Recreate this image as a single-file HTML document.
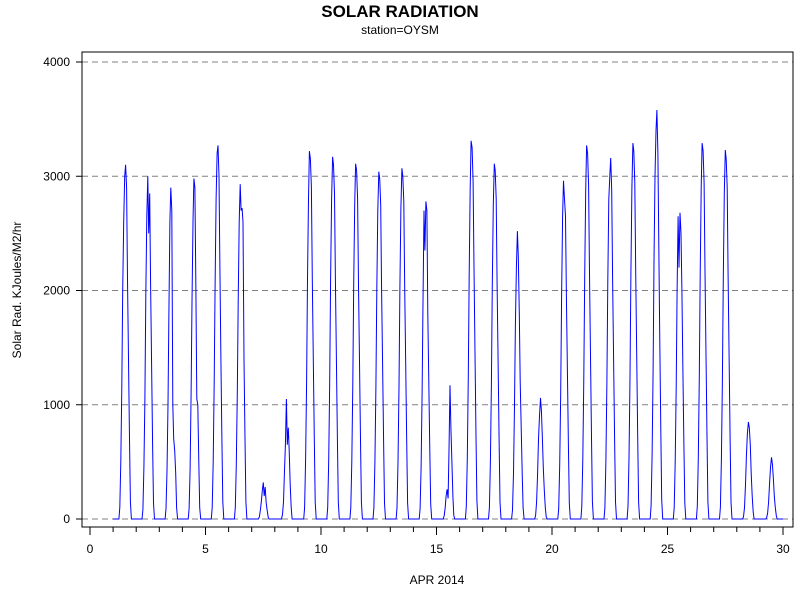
<!DOCTYPE html>
<html><head><meta charset="utf-8"><style>
body{margin:0;background:#fff;}
svg{display:block;font-family:"Liberation Sans",Arial,sans-serif;}
</style></head><body>
<svg id="chart" width="800" height="600">
<text x="400" y="17" text-anchor="middle" font-size="17" font-weight="bold">SOLAR RADIATION</text>
<text x="400" y="34" text-anchor="middle" font-size="12">station=OYSM</text>
<g id="grid"></g>
<g id="yaxis"></g>
<g id="xaxis"></g>
<path id="series" fill="none" stroke="#0000ff" stroke-width="1"></path>
<rect x="82" y="52" width="711" height="475" fill="none" stroke="#000"></rect>
<text transform="translate(21,290) rotate(-90)" text-anchor="middle" font-size="12">Solar Rad.  KJoules/M2/hr</text>
<text x="437" y="584" text-anchor="middle" font-size="12">APR 2014</text>
</svg>
<script>
const yTicks = [0, 1000, 2000, 3000, 4000];
const xTicks = [0, 5, 10, 15, 20, 25, 30];
const firstDay = 1;
const firstHour = 6;
// hourly values for hours 6..19 of each day, days 1..29
const dailyProfiles = [
[0,100,500,1150,2000,2600,3000,3100,2900,2100,1400,700,150,0],
[0,80,450,1050,1950,2650,3000,2500,2850,2050,1350,650,140,0],
[0,90,420,1000,1800,2600,2900,2700,1000,700,600,400,100,0],
[0,90,430,1100,1900,2600,2980,2900,2000,1050,1000,500,100,0],
[0,100,500,1200,2050,2800,3200,3270,3000,2200,1400,700,150,0],
[0,100,480,1100,1900,2600,2930,2700,2720,2600,1400,700,150,0],
[0,0,20,80,150,250,320,200,280,150,80,20,0,0],
[0,0,40,150,400,650,1050,650,800,600,300,100,0,0],
[0,100,520,1200,2100,2800,3220,3150,2900,2100,1400,700,150,0],
[0,100,510,1200,2100,2800,3170,3100,2850,2100,1400,700,150,0],
[0,100,500,1180,2050,2750,3110,3050,2800,2050,1380,690,150,0],
[0,100,490,1150,2000,2700,3040,2980,2750,2000,1350,680,140,0],
[0,100,495,1160,2020,2720,3070,3000,2780,2020,1360,680,140,0],
[0,90,450,1100,1900,2700,2350,2780,2700,1800,1200,600,130,0],
[0,0,30,100,200,260,180,600,1170,800,500,200,30,0],
[0,110,530,1250,2150,2900,3310,3250,2950,2200,1450,720,160,0],
[0,100,500,1180,2050,2750,3110,3050,2800,2050,1380,690,150,0],
[0,80,400,1000,1700,2200,2520,2300,1800,1200,800,400,100,0],
[0,30,150,400,700,900,1060,950,700,450,250,100,20,0],
[0,90,470,1100,1950,2650,2960,2800,2650,1950,1300,650,140,0],
[0,110,520,1230,2120,2870,3270,3200,2920,2150,1430,710,150,0],
[0,100,510,1200,2080,2800,3000,3160,2880,2100,1400,700,150,0],
[0,110,530,1240,2140,2900,3290,3220,2940,2170,1440,720,150,0],
[0,120,560,1300,2250,3000,3400,3580,3200,2400,1550,780,170,0],
[0,100,500,1150,2000,2650,2200,2680,2500,2000,1300,650,140,0],
[0,110,530,1240,2140,2900,3290,3220,2940,2170,1440,720,150,0],
[0,105,520,1220,2110,2850,3230,3150,2900,2130,1420,710,150,0],
[0,20,100,300,550,750,850,800,650,400,200,60,0,0],
[0,10,50,150,300,450,540,480,350,200,100,30,0,0]
];
const NS='http://www.w3.org/2000/svg';
const X0=82,X1=793,Y0=52,Y1=527;
function xs(d){return 90+(d-0)*(783-90)/30;}
function ys(v){return 519-v*(519-62)/4000;}
function mk(tag,attrs,parent){const e=document.createElementNS(NS,tag);for(const k in attrs)e.setAttribute(k,attrs[k]);parent.appendChild(e);return e;}
const grid=document.getElementById('grid'),ya=document.getElementById('yaxis'),xa=document.getElementById('xaxis');
yTicks.forEach(v=>{
  const l=mk('line',{x1:X0,x2:X1,y1:ys(v),y2:ys(v),stroke:'#808080','stroke-dasharray':'6,4'},grid);
  
  
  const t=mk('line',{x1:X0-6,x2:X0,y1:ys(v),y2:ys(v),stroke:'#000'},ya);
  
  
  const tx=mk('text',{x:X0-12,y:ys(v)+4,'text-anchor':'end','font-size':'12'},ya);
  tx.textContent=v;
  
  
});
for(let d=0;d<=30;d++){
  const major=xTicks.includes(d);
  const t=mk('line',{x1:xs(d),x2:xs(d),y1:Y1,y2:Y1+(major?8:5),stroke:'#000'},xa);
  
  
}
xTicks.forEach(d=>{
  const tx=mk('text',{x:xs(d),y:Y1+26,'text-anchor':'middle','font-size':'12'},xa);
  tx.textContent=d;
  
  
});
let pts=[[firstDay,0]];
dailyProfiles.forEach((prof,i)=>{
  const day=firstDay+i;
  prof.forEach((v,h)=>pts.push([day+(firstHour+h)/24,v]));
});
pts.push([30,0]);
document.getElementById('series').setAttribute('d',pts.map((p,i)=>(i?'L':'M')+xs(p[0]).toFixed(1)+','+ys(p[1]).toFixed(1)).join(''));
</script>
</body></html>
